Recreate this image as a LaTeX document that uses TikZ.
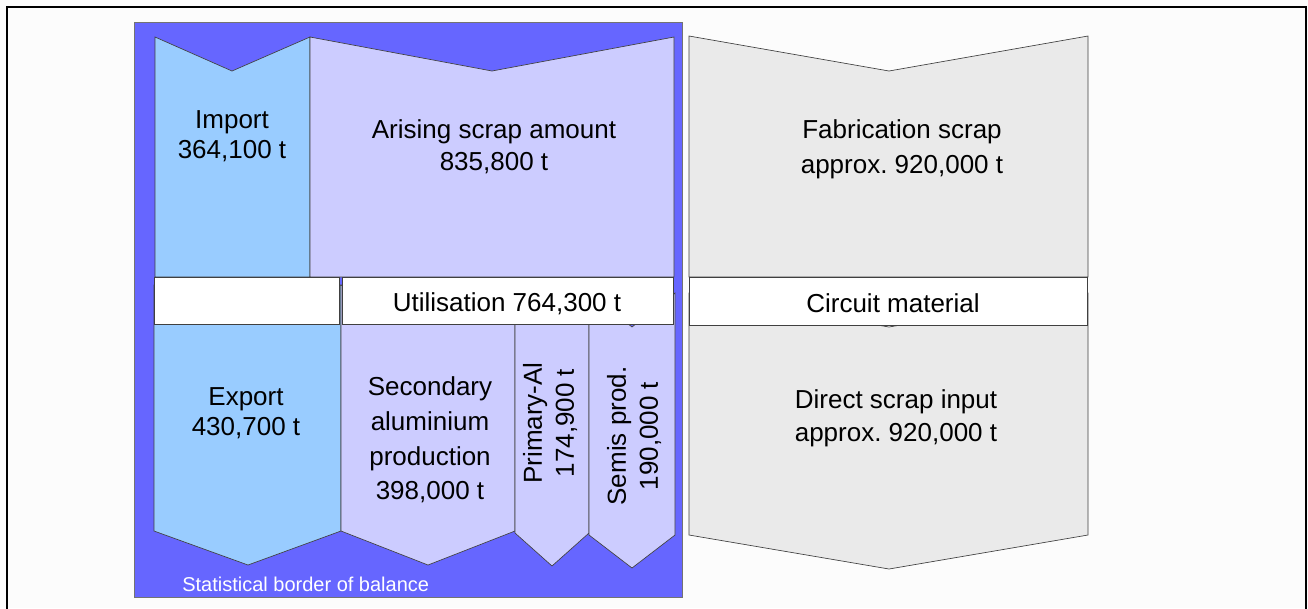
\documentclass[tikz,border=0pt]{standalone}
\usepackage{fontspec}
\setmainfont{Liberation Sans}
\frenchspacing
\definecolor{balance}{HTML}{6666FF}
\definecolor{tradeblue}{HTML}{99CCFF}
\definecolor{scraplilac}{HTML}{CCCCFF}
\definecolor{scrapgrey}{HTML}{EAEAEA}

\begin{document}
\begin{tikzpicture}[x=0.75pt,y=-0.75pt]
\tikzset{flow/.style={draw=black!75,line width=0.5pt}}
\tikzset{band/.style={flow,fill=white}}
\tikzset{flowtext/.style={align=center,inner sep=0pt,font=\fontsize{19.5}{#1}\selectfont},flowtext/.default=24}
\useasboundingbox (0,0) rectangle (1308,608);
\fill[white!99!black] (0,0) rectangle (1308,608);
\draw[line width=1.5pt] (7,612) -- (7,7) -- (1306,7) -- (1306,612);
% statistical border of balance
\draw[fill=balance,draw=black!55] (134,22) rectangle (682,597);
% arriving scrap
\draw[flow,fill=tradeblue] (155,37) -- (232,71) -- (310,37) -- (310,277) -- (155,277) -- cycle;
\draw[flow,fill=scraplilac] (310,37) -- (492,71) -- (674,37) -- (674,277) -- (310,277) -- cycle;
% scrap leaving
\draw[flow,fill=tradeblue] (154,285) -- (248,319) -- (341,285) -- (341,531) -- (248,565) -- (154,531) -- cycle;
\draw[flow,fill=scraplilac] (341,285) -- (428,319) -- (515,285) -- (515,531) -- (428,565) -- (341,531) -- cycle;
\draw[flow,fill=scraplilac] (515,285) -- (552,319) -- (589,285) -- (589,533) -- (552,566) -- (515,533) -- cycle;
\draw[flow,fill=scraplilac] (589,293) -- (632,327) -- (675,293) -- (675,535) -- (632,568) -- (589,535) -- cycle;
% circuit material
\draw[flow,fill=scrapgrey] (689,293) -- (889,327) -- (1088,293) -- (1088,535) -- (889,569) -- (689,535) -- cycle;
\draw[flow,fill=scrapgrey] (689,36) -- (889,71) -- (1088,36) -- (1088,277) -- (689,277) -- cycle;
\draw[band] (154,277) rectangle (339.5,324);
\draw[band] (342,277) rectangle (673,324);
\draw[band] (689,277) rectangle (1087,325);

\node[flowtext=22.5] (import) at (232,136) {Import\\364,100 t};
\node[flowtext] (arising) at (494,147) {Arising scrap amount\\835,800 t};
\node[flowtext=26] (fabrication) at (902,149) {Fabrication scrap\\approx. 920,000 t};
\node[flowtext] (utilisation) at (507,304) {Utilisation 764,300 t};
\node[flowtext] (circuit) at (893,303) {Circuit material};
\node[flowtext=22.5] (export) at (246,413) {Export\\430,700 t};
\node[flowtext=26] (secondary) at (430,440) {Secondary\\aluminium\\production\\398,000 t};
\node[flowtext,rotate=90] (primary) at (550,423) {Primary-Al\\174,900 t};
\node[flowtext,rotate=90] (semis) at (634,436) {Semis prod.\\190,000 t};
\node[flowtext=25] (direct) at (896,418) {Direct scrap input\\approx. 920,000 t};
\node[anchor=west,inner sep=0pt,text=white,font=\fontsize{15}{18}\selectfont] (border) at (182,584) {Statistical border of balance};
\end{tikzpicture}
\end{document}
